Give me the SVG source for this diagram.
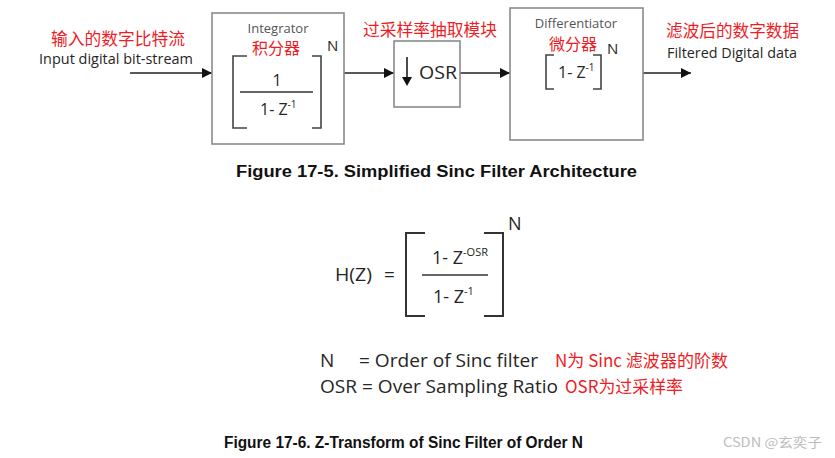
<svg xmlns="http://www.w3.org/2000/svg" width="835" height="458" viewBox="0 0 835 458">
<style>
.box{fill:#fff;stroke:#8a8a8a;stroke-width:1.6}
.br{fill:none;stroke:#444;stroke-width:1.6}
.ln{stroke:#222;stroke-width:1.5;fill:none}
.en{font-family:"Open Sans","Liberation Sans",sans-serif;fill:#262626}
.gr{font-family:"Open Sans","Liberation Sans",sans-serif;fill:#555;font-size:13px}
.cn{font-family:"Noto Sans CJK SC","Noto Sans",sans-serif;fill:#ee1c25}
.cap{font-family:"Liberation Sans",Arial,sans-serif;font-weight:bold;font-size:16px;fill:#111}
</style>
<defs>
<marker id="ah" markerWidth="10" markerHeight="10" refX="10" refY="5" orient="auto" markerUnits="userSpaceOnUse">
<path d="M0,0 L10,5 L0,10 Z" fill="#111"/>
</marker>
</defs>
<rect width="835" height="458" fill="#fff"/>

<g id="connectors">
<line class="ln" x1="130" y1="73" x2="212" y2="73" marker-end="url(#ah)"/>
<line class="ln" x1="344" y1="73" x2="394" y2="73" marker-end="url(#ah)"/>
<line class="ln" x1="460" y1="73" x2="510" y2="73" marker-end="url(#ah)"/>
<line class="ln" x1="643" y1="73" x2="691" y2="73" marker-end="url(#ah)"/>
</g>

<g id="input-label">
<text class="cn" x="51" y="45" font-size="16.5" textLength="134" lengthAdjust="spacingAndGlyphs">输入的数字比特流</text>
<text class="en" x="39" y="64" font-size="14" textLength="154" lengthAdjust="spacingAndGlyphs">Input digital bit-stream</text>
</g>

<g id="integrator">
<rect class="box" x="212" y="13" width="132" height="131"/>
<text class="gr" x="278" y="33" text-anchor="middle">Integrator</text>
<text class="cn" x="276" y="54" font-size="16" text-anchor="middle">积分器</text>
<text class="en" x="327" y="51" font-size="15">N</text>
<path class="br" d="M247,56 H233 V128 H247"/>
<path class="br" d="M312,56 H321 V128 H312"/>
<text class="en" x="277" y="86" font-size="16" text-anchor="middle">1</text>
<line x1="240" y1="92" x2="313" y2="92" stroke="#333" stroke-width="1.3"/>
<text class="en" x="260" y="115" font-size="16">1- Z<tspan font-size="10" dy="-7">-1</tspan></text>
</g>

<g id="decimator-label">
<text class="cn" x="363" y="36" font-size="16.5" textLength="134" lengthAdjust="spacingAndGlyphs">过采样率抽取模块</text>
</g>

<g id="osr">
<rect class="box" x="394" y="41" width="66" height="66"/>
<line x1="407" y1="57" x2="407" y2="78" stroke="#111" stroke-width="1.5"/>
<path d="M402,77 L412,77 L407,86 Z" fill="#111"/>
<text class="en" x="419" y="79" font-size="19" textLength="38" lengthAdjust="spacingAndGlyphs">OSR</text>
</g>

<g id="differentiator">
<rect class="box" x="510" y="8" width="133" height="132"/>
<text class="gr" x="576" y="28" text-anchor="middle">Differentiator</text>
<text class="cn" x="573" y="50" font-size="16" text-anchor="middle">微分器</text>
<text class="en" x="607" y="54" font-size="15">N</text>
<path class="br" d="M554,55 H546 V89 H554"/>
<path class="br" d="M593,55 H601 V89 H593"/>
<text class="en" x="558" y="78" font-size="16">1- Z<tspan font-size="10" dy="-7">-1</tspan></text>
</g>

<g id="output-label">
<text class="cn" x="666" y="37" font-size="16.5" textLength="133" lengthAdjust="spacingAndGlyphs">滤波后的数字数据</text>
<text class="en" x="667" y="58" font-size="14" textLength="130" lengthAdjust="spacingAndGlyphs">Filtered Digital data</text>
</g>

<g id="caption1">
<text class="cap" x="236" y="177" textLength="401" lengthAdjust="spacingAndGlyphs">Figure 17-5. Simplified Sinc Filter Architecture</text>
</g>

<g id="formula">
<text class="en" x="335" y="281" font-size="19" textLength="37" lengthAdjust="spacingAndGlyphs">H(Z)</text>
<text class="en" x="384" y="281" font-size="19">=</text>
<path d="M425,233 H406 V316 H425" fill="none" stroke="#333" stroke-width="2"/>
<path d="M484,233 H503 V316 H484" fill="none" stroke="#333" stroke-width="2"/>
<text class="en" x="508" y="230" font-size="18">N</text>
<text class="en" x="432" y="264" font-size="18">1- Z<tspan font-size="11" dy="-8">-OSR</tspan></text>
<line x1="422" y1="275" x2="488" y2="275" stroke="#333" stroke-width="1.5"/>
<text class="en" x="433" y="303" font-size="18">1- Z<tspan font-size="11" dy="-8">-1</tspan></text>
</g>

<g id="definitions">
<text class="en" x="320" y="367" font-size="19">N</text>
<text class="en" x="359" y="367" font-size="19" textLength="179" lengthAdjust="spacingAndGlyphs">= Order of Sinc filter</text>
<text class="cn" x="555" y="367" font-size="17" textLength="173" lengthAdjust="spacingAndGlyphs">N为 Sinc 滤波器的阶数</text>
<text class="en" x="320" y="393" font-size="19" textLength="238" lengthAdjust="spacingAndGlyphs">OSR = Over Sampling Ratio</text>
<text class="cn" x="565" y="393" font-size="17" textLength="118" lengthAdjust="spacingAndGlyphs">OSR为过采样率</text>
</g>

<g id="caption2">
<text class="cap" x="224" y="448" textLength="359" lengthAdjust="spacingAndGlyphs">Figure 17-6. Z-Transform of Sinc Filter of Order N</text>
</g>

<g id="watermark">
<text x="723" y="447" font-family="'Noto Sans CJK SC','Noto Sans',sans-serif" font-size="13" fill="#bdbdbd" textLength="99" lengthAdjust="spacingAndGlyphs">CSDN @玄奕子</text>
</g>
</svg>
